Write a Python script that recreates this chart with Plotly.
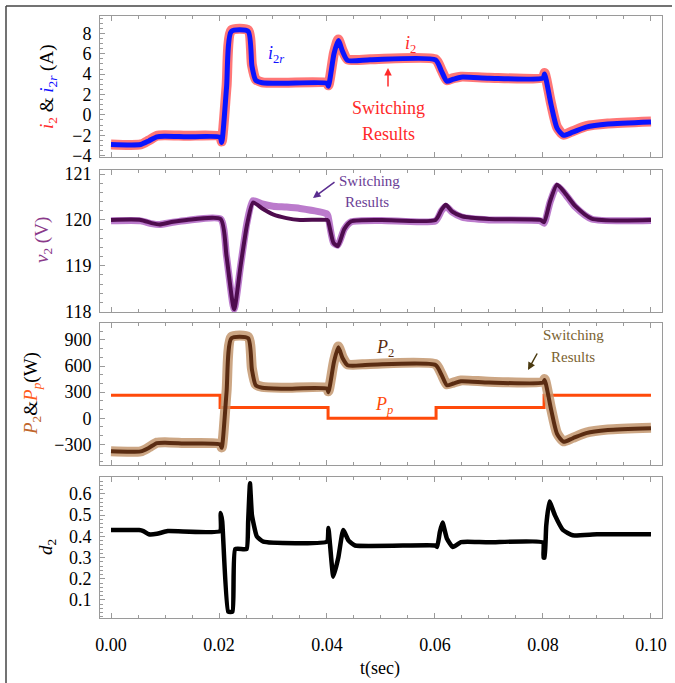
import plotly.graph_objects as go

W, H = 675, 683
FONT = "Liberation Serif"

# ---------------- data ----------------
# Panel 1: current i2 (switching) and reference i2r
t_i = [0, 0.0055, 0.007, 0.0085, 0.010, 0.014, 0.0202, 0.0205, 0.0214, 0.0223, 0.0254, 0.0261,
       0.0268, 0.0280, 0.032, 0.0400, 0.04026, 0.0413, 0.0421, 0.0429, 0.0438, 0.048, 0.0601,
       0.0612, 0.0622, 0.0634, 0.0648, 0.070, 0.0800, 0.0803, 0.0815, 0.0826, 0.0838, 0.0855,
       0.088, 0.092, 0.1]
i2r = [-2.9, -2.9, -2.55, -2.15, -2.1, -2.15, -2.2, -2.7, 2.7, 8.2, 8.2, 4.8,
       3.4, 3.15, 3.1, 3.1, 2.8, 6.0, 7.3, 6.2, 5.35, 5.4, 5.4,
       4.3, 3.3, 3.5, 3.7, 3.6, 3.6, 4.0, 1.0, -1.3, -2.0, -1.7,
       -1.2, -0.9, -0.7]
i2_sw = [-2.9, -2.9, -2.5, -2.05, -2.0, -2.05, -2.1, -2.6, 2.8, 8.3, 8.3, 4.9,
         3.5, 3.2, 3.15, 3.15, 2.9, 6.1, 7.4, 6.3, 5.45, 5.45, 5.45,
         4.4, 3.4, 3.6, 3.75, 3.65, 3.65, 4.1, 1.1, -1.2, -1.95, -1.6,
         -1.1, -0.85, -0.65]

# Panel 2: voltage v2
t_v = [0, 0.0055, 0.0075, 0.0090, 0.0115, 0.0140, 0.0203, 0.0214, 0.0228, 0.0240, 0.0252,
       0.0263, 0.0280, 0.0300, 0.0325, 0.0350, 0.0400, 0.0402, 0.0412, 0.0420, 0.0432, 0.0445,
       0.050, 0.0601, 0.0612, 0.0620, 0.0632, 0.0650, 0.070, 0.0795, 0.0802, 0.0813, 0.0826,
       0.0840, 0.0860, 0.0890, 0.1]
v2 = [120.0, 120.0, 119.93, 119.9, 119.96, 120.0, 120.02, 119.2, 118.05, 119.0, 119.9,
      120.38, 120.25, 120.12, 120.04, 120.0, 120.0, 119.98, 119.5, 119.43, 119.8, 119.97,
      120.0, 120.0, 120.22, 120.33, 120.18, 120.08, 120.02, 120.0, 119.95, 120.4, 120.77,
      120.6, 120.3, 120.03, 120.0]
v2_sw = [119.98, 119.98, 119.92, 119.9, 119.95, 119.99, 120.02, 119.2, 118.05, 119.0, 119.95,
         120.42, 120.35, 120.3, 120.28, 120.25, 120.13, 120.08, 119.5, 119.45, 119.8, 119.96,
         119.99, 119.98, 120.2, 120.3, 120.17, 120.06, 120.0, 119.98, 119.93, 120.38, 120.74,
         120.58, 120.28, 120.02, 119.99]

# Panel 3: power P2 and Pp
t_p = t_i
P2 = [-380, -380, -340, -285, -280, -290, -300, -340, 300, 920, 920, 560,
      380, 350, 340, 340, 300, 650, 815, 690, 610, 615, 612,
      500, 380, 400, 425, 410, 410, 440, 100, -180, -270, -230,
      -170, -135, -115]
P2_sw = [-380, -380, -335, -280, -275, -285, -295, -335, 310, 935, 935, 570,
         390, 360, 350, 350, 310, 660, 825, 700, 620, 625, 622,
         510, 390, 410, 435, 420, 420, 450, 110, -170, -265, -225,
         -165, -130, -110]
t_pp = [0, 0.0202, 0.0402, 0.0602, 0.0802, 0.1]
Pp = [265, 125, 0, 125, 265, 265]

# Panel 4: duty cycle d2
t_d = [0, 0.0052, 0.0060, 0.0070, 0.0085, 0.0105, 0.0202, 0.0203, 0.0206, 0.0217, 0.0225,
       0.0230, 0.0251, 0.0254, 0.02574, 0.0261, 0.0270, 0.0282, 0.0400, 0.04026, 0.0405, 0.04117,
       0.0421, 0.0430, 0.0440, 0.0452, 0.0600, 0.0604, 0.0609, 0.0614, 0.0622, 0.0633, 0.0648,
       0.066, 0.070, 0.0800, 0.0801, 0.0803, 0.0806, 0.0812, 0.0822, 0.0837, 0.0855, 0.090, 0.1]
d2 = [0.43, 0.43, 0.425, 0.41, 0.412, 0.425, 0.425, 0.51, 0.47, 0.045, 0.045,
      0.34, 0.34, 0.47, 0.65, 0.50, 0.40, 0.375, 0.375, 0.44, 0.38, 0.21,
      0.30, 0.43, 0.38, 0.357, 0.357, 0.35, 0.42, 0.465, 0.39, 0.35, 0.373,
      0.375, 0.372, 0.372, 0.30, 0.30, 0.45, 0.565, 0.50, 0.43, 0.405, 0.41, 0.41]

x_ticks = [0.0, 0.02, 0.04, 0.06, 0.08, 0.10]

# ---------------- figure ----------------
fig = go.Figure()

def add(x, y, color, width, ax, shape="spline", smoothing=0.6):
    line = dict(color=color, width=width, shape=shape)
    if shape == "spline":
        line["smoothing"] = smoothing
    fig.add_trace(go.Scatter(x=x, y=y, mode="lines", xaxis="x" + ax, yaxis="y" + ax,
                             line=line, hoverinfo="skip", showlegend=False))

add(t_i, i2_sw, "rgba(255,85,85,0.8)", 10, "")
add(t_i, i2r, "#0a14ff", 5, "")
add(t_v, v2_sw, "rgba(175,100,195,0.85)", 7, "2")
add(t_v, v2, "#4e0c4e", 4, "2")
add(t_pp, Pp, "#ff4a0a", 3, "3", shape="hv")
add(t_p, P2_sw, "rgba(195,150,110,0.85)", 10, "3")
add(t_p, P2, "#5a2c12", 4, "3")
add(t_d, d2, "#000000", 4.5, "4", smoothing=0.4)

XR = [-0.002037, 0.10204]
XD = [100 / W, 662 / W]
panels = [(16, 157, [-4.13, 9.70], 2, 0.5, None),
          (170, 312, [117.99, 121.09], 1, 0.2, None),
          (323, 465, [-537, 1095], 300, 100, None),
          (477, 618, [0.015, 0.680], 0.1, 0.02, ".1f")]

GRAY = "#9a9a9a"
tickfont = dict(family=FONT, size=18, color="black")
layout = dict(width=W, height=H, margin=dict(l=0, r=0, t=0, b=0),
              paper_bgcolor="white", plot_bgcolor="white", showlegend=False)

for k, (top, bot, yr, dt, mdt, fmt) in enumerate(panels):
    sfx = "" if k == 0 else str(k + 1)
    layout["xaxis" + sfx] = dict(
        range=XR, domain=XD, anchor="y" + sfx, showgrid=False, zeroline=False,
        showline=True, linecolor=GRAY, linewidth=1, mirror="ticks",
        ticks="inside", ticklen=5, tickcolor=GRAY, tickvals=x_ticks,
        minor=dict(dtick=0.005, tick0=0, ticks="inside", ticklen=3, tickcolor=GRAY),
        showticklabels=(k == 3), tickformat=".2f", tickfont=tickfont,
        ticklabelstandoff=10, automargin=False, fixedrange=True)
    ydict = dict(
        range=yr, domain=[1 - bot / H, 1 - top / H], anchor="x" + sfx, showgrid=False,
        zeroline=False, showline=True, linecolor=GRAY, linewidth=1, mirror=True,
        ticks="inside", ticklen=5, tickcolor=GRAY, dtick=dt, tick0=0,
        minor=dict(dtick=mdt, tick0=0, ticks="inside", ticklen=3, tickcolor=GRAY),
        tickfont=tickfont, ticklabelstandoff=4, automargin=False, fixedrange=True)
    if fmt:
        ydict["tickformat"] = fmt
    layout["yaxis" + sfx] = ydict

fig.update_layout(**layout)

def px(x): return x / W
def py(y): return 1 - y / H

ann = []
def text(x, y, s, size=18, color="black", angle=0, xanchor="center"):
    ann.append(dict(x=px(x), y=py(y), xref="paper", yref="paper", text=s, showarrow=False,
                    textangle=angle, xanchor=xanchor, yanchor="middle",
                    font=dict(family=FONT, size=size, color=color)))

def arrow(x, y, ax, ay, color):
    ann.append(dict(x=px(x), y=py(y), xref="paper", yref="paper", text="", showarrow=True,
                    ax=ax, ay=ay, arrowhead=2, arrowsize=1, arrowwidth=1.5,
                    arrowcolor=color))

# y-axis titles
text(48, 87, '<span style="color:#ff2a2a"><i>i</i><sub>2</sub></span> &amp; '
             '<span style="color:#1010ff"><i>i</i><sub>2<i>r</i></sub></span> (A)', 19, angle=-90)
text(43, 240, '<i>v</i><sub>2</sub> (V)', 19, "#8a3a8a", angle=-90)
text(32, 394, '<span style="color:#c0652a"><i>P</i><sub>2</sub></span>&amp;'
              '<span style="color:#ff5a1a"><i>P</i><sub><i>p</i></sub></span>(W)', 19, angle=-90)
text(47, 547, '<i>d</i><sub>2</sub>', 19, angle=-90)
text(380, 668, 't(sec)', 18)

# panel labels
text(276, 55, '<i>i</i><sub>2<i>r</i></sub>', 18, "#1010ff")
text(410, 44, '<i>i</i><sub>2</sub>', 18, "#ff2a2a")
text(388, 108, 'Switching', 18, "#ff2a2a")
text(388, 134, 'Results', 18, "#ff2a2a")
arrow(388, 68, 0, 20, "#ff2a2a")

text(369, 181, 'Switching', 15, "#6a3d95")
text(367, 202, 'Results', 15, "#6a3d95")
arrow(313, 198, 23, -17, "#5a2d90")

text(385, 348, '<i>P</i><sub>2</sub>', 18, "#5a2c12")
text(384, 405, '<i>P</i><sub><i>p</i></sub>', 18, "#ff4a0a")
text(573, 335, 'Switching', 15, "#7a6230")
text(573, 357, 'Results', 15, "#7a6230")
arrow(528, 370, 10, -18, "#4a3a10")

fig.update_layout(annotations=ann)

# outer frame lines (top and left)
fig.update_layout(shapes=[
    dict(type="line", xref="paper", yref="paper", x0=px(6), x1=px(672), y0=py(6), y1=py(6),
         line=dict(color="#444", width=1.5)),
    dict(type="line", xref="paper", yref="paper", x0=px(6), x1=px(6), y0=py(6), y1=0,
         line=dict(color="#444", width=1.5)),
])

fig.write_html("out.html")
